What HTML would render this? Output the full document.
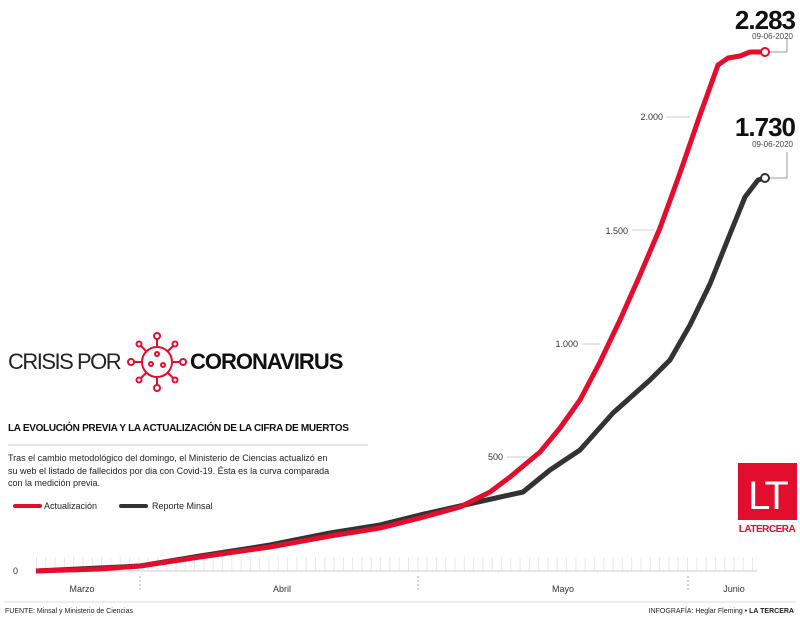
<!DOCTYPE html>
<html><head><meta charset="utf-8"><style>
body{margin:0;background:#fff;width:800px;height:623px;overflow:hidden;font-family:"Liberation Sans",sans-serif}
</style></head><body>
<svg width="800" height="623" viewBox="0 0 800 623" xmlns="http://www.w3.org/2000/svg" font-family="Liberation Sans, sans-serif">
<defs><pattern id="tk" width="9.3" height="14" patternUnits="userSpaceOnUse" x="36"><line x1="0.5" y1="0" x2="0.5" y2="14" stroke="#e8e8e8" stroke-width="1"/></pattern></defs>
<rect x="36" y="557" width="720" height="14" fill="url(#tk)"/>
<line x1="36" y1="571" x2="757" y2="571" stroke="#ccc" stroke-width="1"/>
<g stroke="#aaa" stroke-dasharray="2,2"><line x1="140" y1="576" x2="140" y2="590"/><line x1="418" y1="576" x2="418" y2="590"/><line x1="688" y1="576" x2="688" y2="590"/></g>
<g font-size="9" fill="#333" text-anchor="middle"><text x="82" y="592">Marzo</text><text x="282" y="592">Abril</text><text x="563" y="592">Mayo</text><text x="734" y="592">Junio</text></g>
<text x="18" y="574" font-size="9" fill="#333" text-anchor="end">0</text>
<g font-size="9" fill="#333" text-anchor="end"><text x="503" y="460">500</text><text x="578" y="347">1.000</text><text x="628" y="234">1.500</text><text x="663" y="120">2.000</text></g>
<g stroke="#ccc"><line x1="507" y1="457" x2="530" y2="457"/><line x1="582" y1="344" x2="600" y2="344"/><line x1="632" y1="230" x2="655" y2="230"/><line x1="666" y1="117" x2="690" y2="117"/></g>
<polyline fill="none" stroke="#333" stroke-width="5" stroke-linejoin="round" points="36,571 140,566 200,556 270,545 330,533 380,525 420,515 460,506 523,492 550,470 580,450 613,413 650,380 670,360 690,325 710,284 730,234 745,197 758,180 765,178"/>
<polyline fill="none" stroke="#e30d2d" stroke-width="5" stroke-linejoin="round" points="36,571 100,569 140,566 200,557 270,547 330,536 380,528 420,518 460,507 490,492 510,477 540,452 560,428 580,400 600,362 620,320 640,275 660,228 680,173 700,115 718,65 728,58 740,56 750,52 765,52"/>
<g stroke="#999" fill="none"><polyline points="770,52 787,52 787,38"/><polyline points="770,178 787,178 787,152"/></g>
<circle cx="765" cy="52" r="4" fill="#fff" stroke="#e30d2d" stroke-width="2"/>
<circle cx="765" cy="178" r="4" fill="#fff" stroke="#333" stroke-width="2"/>
<g text-anchor="end" fill="#111"><text x="795" y="29" font-size="26" font-weight="bold" letter-spacing="-1">2.283</text><text x="793" y="39" font-size="8" fill="#444">09-06-2020</text>
<text x="795" y="136" font-size="26" font-weight="bold" letter-spacing="-1">1.730</text><text x="793" y="147" font-size="8" fill="#444">09-06-2020</text></g>
<text x="8" y="369" font-size="22" fill="#222" letter-spacing="-1.5">CRISIS POR</text>
<g stroke="#e30d2d" stroke-width="2" fill="none"><circle cx="157" cy="362" r="15"/><circle cx="157" cy="354" r="2"/><circle cx="151" cy="364" r="2"/><circle cx="163" cy="365" r="2"/>
<line x1="157" y1="347" x2="157" y2="339"/><circle cx="157" cy="336" r="3"/><line x1="157" y1="377" x2="157" y2="385"/><circle cx="157" cy="388" r="3"/>
<line x1="142" y1="362" x2="134" y2="362"/><circle cx="131" cy="362" r="3"/><line x1="172" y1="362" x2="180" y2="362"/><circle cx="183" cy="362" r="3"/>
<line x1="146" y1="351" x2="141" y2="346"/><circle cx="139" cy="344" r="2.5"/><line x1="168" y1="351" x2="173" y2="346"/><circle cx="175" cy="344" r="2.5"/>
<line x1="146" y1="373" x2="141" y2="378"/><circle cx="139" cy="380" r="2.5"/><line x1="168" y1="373" x2="173" y2="378"/><circle cx="175" cy="380" r="2.5"/></g>
<text x="190" y="369" font-size="22" font-weight="bold" fill="#111" letter-spacing="-1">CORONAVIRUS</text>
<text x="8" y="431" font-size="10" font-weight="bold" fill="#111" letter-spacing="-0.3">LA EVOLUCIÓN PREVIA Y LA ACTUALIZACIÓN DE LA CIFRA DE MUERTOS</text>
<line x1="8" y1="445" x2="368" y2="445" stroke="#ccc"/>
<g font-size="9" fill="#222"><text x="8" y="461">Tras el cambio metodológico del domingo, el Ministerio de Ciencias actualizó en</text><text x="8" y="474">su web el listado de fallecidos por dia con Covid-19. Ésta es la curva comparada</text><text x="8" y="486">con la medición previa.</text>
<text x="44" y="509">Actualización</text><text x="152" y="509">Reporte Minsal</text></g>
<line x1="15" y1="506" x2="40" y2="506" stroke="#e30d2d" stroke-width="4" stroke-linecap="round"/>
<line x1="121" y1="506" x2="146" y2="506" stroke="#333" stroke-width="4" stroke-linecap="round"/>
<rect x="738" y="463" width="59" height="57" fill="#e30d2d"/>
<text x="767" y="509" font-size="40" fill="#fff" text-anchor="middle" letter-spacing="-3">LT</text>
<text x="767" y="532" font-size="10" font-weight="bold" fill="#e30d2d" text-anchor="middle" letter-spacing="-0.5">LATERCERA</text>
<line x1="4" y1="602" x2="796" y2="602" stroke="#ddd"/>
<text x="5" y="613" font-size="7" fill="#222">FUENTE: Minsal y Ministerio de Ciencias</text>
<text x="794" y="613" font-size="7" fill="#222" text-anchor="end">INFOGRAFÍA: Heglar Fleming • <tspan font-weight="bold">LA TERCERA</tspan></text>
</svg>
</body></html>
